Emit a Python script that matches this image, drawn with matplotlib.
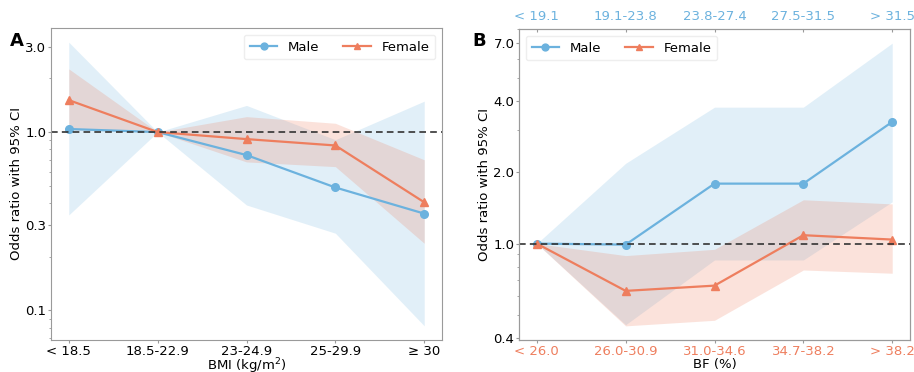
import matplotlib
matplotlib.use("Agg")
import matplotlib.pyplot as plt
from matplotlib.ticker import FixedLocator, FixedFormatter, NullFormatter

# ---- Data ----
bmi_labels = ["< 18.5", "18.5-22.9", "23-24.9", "25-29.9", "≥ 30"]
bmi_male = [1.04, 1.0, 0.743, 0.489, 0.349]
bmi_male_lo = [0.343, 1.0, 0.39, 0.271, 0.082]
bmi_male_hi = [3.19, 1.0, 1.41, 0.906, 1.49]
bmi_female = [1.51, 1.0, 0.913, 0.841, 0.404]
bmi_female_lo = [1.03, 1.0, 0.68, 0.64, 0.238]
bmi_female_hi = [2.26, 1.0, 1.22, 1.12, 0.699]

bf_female_labels = ["< 26.0", "26.0-30.9", "31.0-34.6", "34.7-38.2", "> 38.2"]
bf_male_labels = ["< 19.1", "19.1-23.8", "23.8-27.4", "27.5-31.5", "> 31.5"]
bf_male = [1.0, 0.99, 1.79, 1.79, 3.26]
bf_male_lo = [1.0, 0.455, 0.853, 0.853, 1.50]
bf_male_hi = [1.0, 2.18, 3.76, 3.76, 7.0]
bf_female = [1.0, 0.632, 0.665, 1.085, 1.04]
bf_female_lo = [1.0, 0.45, 0.475, 0.774, 0.75]
bf_female_hi = [1.0, 0.89, 0.946, 1.53, 1.47]

a_yticks = [0.1, 0.3, 1.0, 3.0]
b_yticks = [0.4, 1.0, 2.0, 4.0, 7.0]

BLUE = "#6CB2DE"
ORANGE = "#EE7E5E"
SPINE = "#9a9a9a"
FS = 9.5

plt.rcParams['font.family'] = ['DejaVu Sans']

fig = plt.figure(figsize=(9.14, 3.72), dpi=100)
W, H = 914, 372
axA = fig.add_axes([51 / W, 1 - 340 / H, (442 - 51) / W, (340 - 28) / H])
axB = fig.add_axes([519 / W, 1 - 340 / H, (910 - 519) / W, (340 - 29) / H])


def draw(ax, male, mlo, mhi, female, flo, fhi, yticks, loc):
    x = list(range(len(male)))
    ax.fill_between(x, mlo, mhi, color=BLUE, alpha=0.2, linewidth=0)
    ax.fill_between(x, flo, fhi, color=ORANGE, alpha=0.22, linewidth=0)
    ax.plot(x, male, color=BLUE, marker='o', markersize=5.5, linewidth=1.6, label='Male')
    ax.plot(x, female, color=ORANGE, marker='^', markersize=5.5, linewidth=1.6, label='Female')
    ax.set_yscale('log')
    ax.axhline(1.0, color='#333333', linestyle=(0, (4, 2.5)), linewidth=1.2)
    ax.yaxis.set_major_locator(FixedLocator(yticks))
    ax.yaxis.set_major_formatter(FixedFormatter([f"{t:.1f}" for t in yticks]))
    ax.yaxis.set_minor_formatter(NullFormatter())
    ax.set_xticks(x)
    for s in ax.spines.values():
        s.set_color(SPINE)
    ax.tick_params(axis='both', which='major', color=SPINE, labelsize=FS, length=2.5, pad=0.8)
    ax.tick_params(axis='both', which='minor', color=SPINE, length=1.8)
    ax.set_ylabel("Odds ratio with 95% CI", fontsize=FS, labelpad=2)
    ax.legend(loc=loc, ncol=2, fontsize=FS, frameon=True, framealpha=1,
              edgecolor='#eeeeee', handlelength=2.1, columnspacing=1.8,
              borderpad=0.45, markerscale=0.9)
    return x


xA = draw(axA, bmi_male, bmi_male_lo, bmi_male_hi, bmi_female, bmi_female_lo,
          bmi_female_hi, a_yticks, 'upper right')
axA.set_xticklabels(bmi_labels)
axA.set_xlabel("BMI (kg/m$^2$)", fontsize=FS, labelpad=-0.5)

xB = draw(axB, bf_male, bf_male_lo, bf_male_hi, bf_female, bf_female_lo,
          bf_female_hi, b_yticks, 'upper left')
axB.set_xticklabels(bf_female_labels)
for t in axB.get_xticklabels():
    t.set_color(ORANGE)
axB.set_xlabel("BF (%)", fontsize=FS, labelpad=0)

top = axB.twiny()
top.set_xlim(axB.get_xlim())
top.set_xticks(xB)
top.set_xticklabels(bf_male_labels)
top.tick_params(axis='x', direction='in', color=SPINE, labelsize=FS, labelcolor=BLUE,
                length=2.5, pad=4)
for s in top.spines.values():
    s.set_color(SPINE)

fig.text(10 / W, 1 - 46 / H, "A", fontsize=13, fontweight='bold')
fig.text(472 / W, 1 - 46 / H, "B", fontsize=13, fontweight='bold')

fig.savefig("out.png", dpi=100)
